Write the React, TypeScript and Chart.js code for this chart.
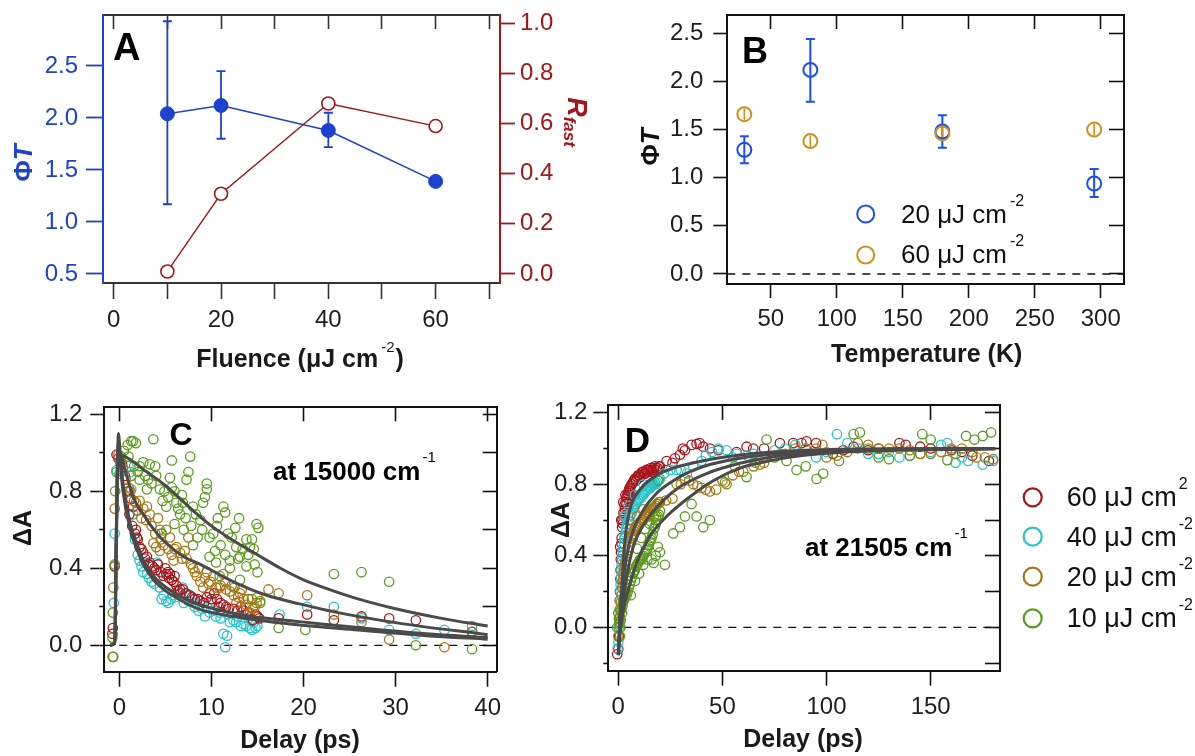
import React, { useEffect, useRef } from 'react';
import { Chart, registerables } from 'chart.js';

Chart.register(...registerables);

const FONT = "'Liberation Sans', Arial, Helvetica, sans-serif";

// ---------------- Panel A data ----------------
const fluenceA = [10, 20, 40, 60];
const phiTA = [2.04, 2.12, 1.88, 1.39];
const phiTALow = [1.17, 1.8, 1.72, 1.36];
const phiTAHigh = [2.93, 2.45, 2.05, 1.42];
const rFastA = [0.01, 0.32, 0.68, 0.59];
const ticksAx = [0, 10, 20, 30, 40, 50, 60, 70];
const labelsAx = ['0', '', '20', '', '40', '', '60', ''];
const ticksAy = [0.5, 1.0, 1.5, 2.0, 2.5];
const ticksAr = [0, 0.2, 0.4, 0.6, 0.8, 1.0];

// ---------------- Panel B data ----------------
const tempsB = [30, 80, 180, 295];
const phiT20 = [1.29, 2.12, 1.48, 0.94];
const phiT20Low = [1.15, 1.79, 1.31, 0.8];
const phiT20High = [1.43, 2.44, 1.65, 1.09];
const phiT60 = [1.66, 1.38, 1.46, 1.5];
const phiT60Low = [1.6, 1.32, 1.4, 1.44];
const phiT60High = [1.72, 1.44, 1.52, 1.56];
const ticksBx = [50, 100, 150, 200, 250, 300];
const ticksBy = [0, 0.5, 1.0, 1.5, 2.0, 2.5];

// ---------------- Panel C data (delay ps, ΔA) ----------------
const c60 = [[-0.75,0.06],[-0.7,0.09],[-0.5,0.41],[-0.3,0.99],[-0.1,0.97],[0.3,0.94],[0.6,0.88],[1.0,0.8],[1.3,0.76],[1.5,0.72],[1.7,0.58],[1.9,0.56],[2.2,0.51],[2.6,0.48],[3.0,0.46],[3.3,0.43],[3.8,0.4],[4.5,0.38],[5.1,0.37],[5.5,0.37],[5.7,0.34],[6.0,0.36],[6.4,0.28],[6.9,0.29],[7.9,0.25],[8.5,0.24],[9.8,0.27],[10.3,0.27],[10.6,0.24],[11.0,0.22],[11.6,0.2],[12.4,0.19],[13.5,0.18],[13.8,0.16],[14.5,0.13],[15.0,0.15],[17.3,0.14],[20.4,0.16],[23.3,0.13],[26.3,0.15],[29.3,0.14],[32.2,0.13],[38.3,0.07],
  [1.1,0.68],[1.4,0.62],[1.8,0.6],[2.0,0.55],[2.4,0.5],[2.8,0.45],[3.2,0.42],[3.6,0.41],[4.0,0.39],[4.8,0.36],[5.3,0.38],[5.9,0.33],[6.2,0.31],[6.6,0.29],[7.2,0.27],[7.6,0.26],[8.2,0.24],[8.8,0.23],[9.2,0.22],[9.5,0.25],[10.0,0.24],[10.8,0.2],[11.3,0.21],[11.9,0.19],[12.8,0.18],[13.2,0.2],[14.0,0.17],[14.8,0.16],[15.2,0.14],[4.2,0.42],[5.0,0.4],[5.4,0.35]];
const c40 = [[-0.6,0.22],[-0.5,0.58],[-0.3,0.91],[0.0,0.89],[1.0,0.93],[1.2,0.9],[1.3,0.81],[1.9,0.7],[2.2,0.44],[2.4,0.41],[2.7,0.43],[3.0,0.37],[3.5,0.33],[4.1,0.43],[4.4,0.3],[4.6,0.24],[5.1,0.23],[5.6,0.24],[6.3,0.28],[6.9,0.3],[7.3,0.27],[7.7,0.26],[8.0,0.24],[8.4,0.22],[8.8,0.21],[9.3,0.15],[9.5,0.2],[10.2,0.18],[10.9,0.17],[11.3,0.06],[11.5,-0.01],[11.7,0.05],[12.4,0.13],[12.7,0.12],[13.2,0.1],[13.8,0.1],[14.4,0.08],[14.8,0.09],[14.0,0.14],[17.4,0.16],[20.4,0.2],[23.3,0.2],[26.3,0.14],[29.3,0.08],[32.2,0.06],[35.3,0.08],[38.3,0.1],
  [1.5,0.68],[1.7,0.55],[2.0,0.47],[2.6,0.38],[3.2,0.35],[3.8,0.32],[4.2,0.36],[4.8,0.26],[5.3,0.22],[5.8,0.26],[6.1,0.25],[6.6,0.27],[7.0,0.22],[7.5,0.23],[8.2,0.2],[8.6,0.18],[9.0,0.19],[9.8,0.17],[10.5,0.15],[11.0,0.14],[12.0,0.12],[12.9,0.15],[13.5,0.11],[14.2,0.09],[14.6,0.12],[15.0,0.1],[10.0,0.22],[11.8,0.16]];
const c20 = [[-0.72,-0.06],[-0.65,0.3],[-0.5,0.71],[-0.1,0.99],[0.1,0.95],[0.4,0.92],[1.0,0.82],[1.3,0.88],[1.6,0.75],[2.2,0.75],[2.6,0.71],[3.0,0.72],[3.3,0.68],[4.2,0.66],[3.9,0.58],[4.6,0.58],[5.1,0.6],[3.7,0.53],[4.0,0.51],[4.4,0.49],[5.5,0.56],[6.2,0.51],[6.6,0.48],[7.1,0.49],[7.5,0.56],[7.3,0.45],[5.9,0.44],[8.0,0.4],[8.4,0.36],[8.8,0.33],[9.1,0.3],[9.7,0.32],[10.2,0.36],[11.3,0.37],[11.0,0.31],[10.9,0.3],[12.0,0.28],[12.4,0.26],[13.1,0.27],[13.5,0.24],[12.7,0.22],[13.8,0.21],[14.5,0.19],[14.9,0.22],[15.3,0.23],[14.2,0.17],[16.2,0.29],[17.3,0.27],[20.4,0.26],[23.3,0.16],[26.3,0.12],[29.3,0.03],[35.3,-0.01],[38.3,0.07],
  [0.7,0.86],[1.2,0.8],[1.8,0.74],[2.0,0.7],[2.4,0.66],[2.9,0.65],[3.5,0.62],[4.5,0.55],[4.8,0.52],[5.3,0.5],[5.7,0.47],[6.0,0.5],[6.8,0.45],[7.8,0.42],[8.2,0.38],[8.6,0.4],[9.3,0.35],[9.9,0.33],[10.5,0.3],[11.6,0.29],[12.2,0.31],[12.9,0.25],[13.3,0.29],[14.0,0.24],[14.7,0.2],[15.0,0.25],[9.5,0.38],[11.5,0.33]];
const c10 = [[-0.65,-0.06],[-0.75,0.04],[-0.7,0.17],[-0.5,0.42],[-0.45,0.8],[-0.3,0.9],[0.2,0.98],[0.5,1.01],[0.9,1.04],[1.3,1.06],[1.5,1.06],[1.8,1.05],[3.7,1.07],[2.2,0.93],[2.6,0.95],[3.3,0.94],[3.9,0.93],[5.7,0.96],[7.7,0.98],[7.5,0.9],[7.3,0.86],[6.8,0.78],[5.5,0.87],[5.7,0.82],[2.2,0.86],[3.0,0.81],[3.1,0.86],[4.4,0.81],[6.2,0.74],[6.4,0.71],[5.1,0.72],[4.7,0.75],[4.4,0.6],[4.6,0.58],[6.9,0.74],[8.0,0.72],[8.8,0.65],[9.1,0.74],[9.5,0.84],[9.5,0.81],[9.3,0.77],[10.6,0.62],[10.7,0.66],[11.3,0.72],[11.5,0.69],[11.8,0.58],[12.2,0.56],[12.7,0.51],[10.4,0.49],[9.8,0.46],[13.1,0.46],[13.8,0.55],[14.2,0.51],[14.4,0.55],[13.8,0.41],[13.1,0.34],[14.9,0.63],[15.1,0.61],[10.9,0.36],[14.4,0.24],[8.5,0.56],[7.0,0.6],[12.0,0.4],[12.5,0.3],[15.3,0.22],[17.3,0.09],[20.2,0.08],[23.3,0.37],[26.3,0.38],[29.3,0.33],[32.2,0.0],[38.3,-0.02],
  [1.0,0.98],[1.6,0.93],[2.0,0.9],[2.8,0.88],[3.5,0.84],[4.0,0.88],[4.9,0.8],[5.3,0.77],[6.0,0.8],[6.6,0.68],[7.2,0.66],[7.8,0.62],[8.3,0.68],[9.0,0.6],[9.8,0.56],[10.2,0.58],[11.0,0.52],[11.5,0.47],[12.0,0.44],[12.9,0.45],[13.4,0.5],[14.0,0.47],[14.7,0.42],[15.0,0.38],[10.5,0.43],[8.0,0.52],[6.0,0.63],[12.6,0.61],[13.0,0.66],[14.6,0.5]];
const fitC10 = [[-1.0,0],[-0.5,0.01],[-0.35,0.5],[-0.15,1.0],[0.2,0.99],[1.0,0.97],[3.0,0.9],[5.0,0.83],[8.0,0.7],[10.0,0.62],[12.5,0.54],[15.0,0.47],[17.5,0.4],[20.0,0.34],[23.0,0.287],[26.0,0.24],[30.0,0.19],[35.0,0.14],[40.0,0.1]];
const fitC20 = [[-1.0,0],[-0.5,0.01],[-0.35,0.5],[-0.15,1.0],[0.0,1.0],[0.8,0.88],[1.5,0.77],[2.6,0.68],[4.1,0.58],[5.1,0.53],[7.0,0.46],[8.8,0.42],[12.4,0.33],[16.0,0.26],[19.6,0.215],[23.2,0.175],[30.5,0.114],[40.0,0.055]];
const fitC60 = [[-1.0,0],[-0.5,0.01],[-0.3,0.6],[-0.1,1.1],[0.1,1.0],[0.4,0.84],[1.2,0.63],[1.9,0.53],[2.6,0.44],[3.7,0.36],[5.1,0.3],[7.0,0.244],[8.8,0.21],[12.4,0.166],[16.0,0.14],[19.6,0.123],[25.9,0.092],[33.3,0.06],[40.0,0.04]];
const fitC40 = [[-1.0,0],[-0.5,0.01],[-0.3,0.6],[-0.1,1.05],[0.1,0.95],[0.4,0.8],[1.2,0.6],[1.9,0.5],[2.6,0.42],[3.7,0.34],[5.1,0.28],[7.0,0.225],[8.8,0.185],[12.4,0.15],[16.0,0.125],[19.6,0.106],[25.9,0.08],[33.3,0.05],[40.0,0.032]];
const ticksCx = [0, 10, 20, 30, 40];
const ticksCyMinor = [0, 0.2, 0.4, 0.6, 0.8, 1.0, 1.2];
const ticksCyMajor = [0, 0.4, 0.8, 1.2];

// ---------------- Panel D data (delay ps, ΔA) ----------------
const d60 = [[-0.5,-0.15],[0,-0.12],[0.3,-0.05],[0.5,0.05],[0.7,0.15],[1.0,0.27],[1.2,0.38],[1.5,0.47],[1.8,0.56],[2.0,0.6],[2.5,0.64],[3.0,0.68],[3.5,0.7],[4.0,0.73],[4.5,0.75],[5.0,0.76],[5.5,0.78],[6.0,0.79],[7.0,0.81],[8.0,0.83],[9.0,0.84],[10.0,0.85],[11.0,0.86],[12.0,0.87],[13.0,0.86],[14.0,0.88],[15.0,0.88],[16.0,0.87],[17.0,0.89],[18.0,0.88],[19.0,0.89],[20.0,0.9],[23.2,0.93],[27.2,0.945],[29.6,0.965],[32.0,0.99],[35.2,1.02],[37.6,1.025],[40.8,1.01],[44,1.0],[56.8,0.98],[61.6,1.01],[64.8,1.0],[77.6,1.03],[84,1.03],[90.4,1.04],[95,1.03],[103,0.97],[113,1.01],[120,0.99],[135,1.03],[138,1.02],[150,1.0],[160,0.99],[170,0.96],[178,0.93],
  [0.8,0.2],[1.1,0.32],[1.3,0.42],[1.6,0.5],[2.2,0.58],[2.8,0.62],[3.2,0.66],[3.8,0.69],[4.2,0.72],[4.8,0.74],[5.2,0.77],[5.8,0.76],[6.5,0.8],[7.5,0.82],[8.5,0.82],[9.5,0.85],[10.5,0.84],[11.5,0.87],[12.5,0.86],[13.5,0.88],[14.5,0.87],[15.5,0.89],[16.5,0.88],[17.5,0.9],[18.5,0.89],[19.5,0.9],[1.4,0.6],[2.4,0.7],[3.4,0.74],[0.9,0.45],[26,0.92],[31,1.0],[39,1.03],[48,0.99],[70,1.0],[88,1.03],[108,0.99],[125,1.0],[145,1.01],[165,0.98]];
const d40 = [[-0.3,-0.12],[0,-0.08],[0.3,0.0],[0.6,0.1],[1.0,0.2],[1.3,0.28],[1.6,0.35],[2.0,0.4],[2.5,0.45],[3.0,0.5],[3.5,0.53],[4.0,0.56],[5.0,0.6],[6.0,0.63],[7.0,0.66],[8.0,0.68],[9.0,0.7],[10.0,0.72],[11.0,0.73],[12.0,0.74],[13.0,0.76],[14.0,0.77],[15.0,0.78],[16.0,0.79],[17.0,0.8],[18.0,0.8],[19.0,0.82],[20.0,0.83],[25,0.88],[28,0.88],[33,0.86],[40,0.93],[45,0.98],[48,1.0],[52,0.99],[57,0.97],[62,0.96],[75,0.99],[85,1.02],[95,0.95],[105,1.08],[110,1.03],[115,1.0],[125,0.97],[130,0.98],[140,0.96],[150,0.98],[158,1.03],[162,0.92],[168,0.93],[175,0.91],[180,0.93],
  [0.8,0.15],[1.1,0.24],[1.5,0.32],[1.8,0.38],[2.2,0.42],[2.8,0.47],[3.2,0.51],[3.8,0.55],[4.5,0.58],[5.5,0.62],[6.5,0.64],[7.5,0.67],[8.5,0.69],[9.5,0.71],[10.5,0.72],[11.5,0.74],[12.5,0.75],[13.5,0.77],[14.5,0.78],[15.5,0.78],[16.5,0.8],[17.5,0.81],[18.5,0.81],[19.5,0.83],[3.0,0.62],[5.0,0.68],[8,0.74],[12,0.8],[2,0.3],[22,0.86],[30,0.88],[36,0.9],[42,0.96],[55,0.95],[65,0.97],[80,1.0],[90,1.0],[100,0.98],[120,0.97],[135,0.95],[145,0.97],[155,1.02],[165,0.95]];
const d20 = [[0,-0.05],[0.5,0.02],[1.0,0.1],[1.5,0.18],[2.0,0.25],[2.5,0.3],[3.0,0.33],[3.5,0.37],[4.0,0.4],[5.0,0.45],[6.0,0.5],[7.0,0.52],[8.0,0.55],[9.0,0.57],[10.0,0.58],[11.0,0.59],[12.0,0.6],[13.0,0.62],[14.0,0.63],[15.0,0.64],[16.0,0.66],[17.0,0.67],[18.0,0.68],[19.0,0.69],[20.0,0.7],[23,0.71],[26,0.72],[28,0.8],[32,0.83],[36,0.8],[40,0.78],[44,0.76],[47,0.77],[52,0.8],[55,0.85],[60,0.87],[65,0.9],[70,0.92],[75,0.96],[80,0.97],[85,1.0],[95,1.0],[100,0.95],[105,0.96],[115,1.03],[125,1.0],[135,1.0],[145,0.97],[155,0.98],[165,1.0],[172,0.95],[180,0.94],
  [0.8,0.06],[1.2,0.14],[1.8,0.22],[2.2,0.27],[2.8,0.32],[3.2,0.35],[4.5,0.43],[5.5,0.48],[6.5,0.51],[7.5,0.54],[8.5,0.56],[9.5,0.57],[10.5,0.59],[11.5,0.6],[12.5,0.61],[13.5,0.62],[14.5,0.64],[15.5,0.65],[16.5,0.66],[17.5,0.67],[18.5,0.69],[19.5,0.7],[6,0.55],[9,0.62],[12,0.66],[15,0.62],[18,0.62],[30,0.8],[34,0.82],[38,0.79],[42,0.77],[50,0.82],[58,0.87],[68,0.91],[78,0.97],[90,1.0],[98,1.02],[110,0.98],[120,1.02],[130,1.0],[140,0.99],[150,0.97],[160,1.0],[170,0.98],[176,0.95]];
const d10 = [[-0.5,0.0],[0,0.08],[0.5,0.03],[1.0,0.0],[1.5,0.1],[2.0,0.12],[2.5,0.15],[3.0,0.16],[3.5,0.2],[4.0,0.18],[5.0,0.22],[6.0,0.26],[7.0,0.3],[8.0,0.32],[9.0,0.35],[10.0,0.37],[11.0,0.38],[12.0,0.4],[13.0,0.42],[14.0,0.44],[15.0,0.48],[16.0,0.5],[17.0,0.55],[18.0,0.58],[19.0,0.62],[20.0,0.65],[16,0.38],[18,0.4],[19.2,0.82],[22.4,0.35],[26.4,0.525],[29.6,0.56],[32,0.62],[35.2,0.69],[37.6,0.62],[40.8,0.56],[44,0.6],[51.2,0.81],[56,0.9],[61.6,0.84],[66,0.92],[71.2,1.05],[75,0.95],[80.8,0.93],[85.6,0.88],[90,0.9],[95.2,0.83],[98.4,0.86],[106,0.93],[113,1.08],[116,1.09],[120,1.0],[125,0.95],[130,0.94],[140,0.96],[146,1.08],[150,1.05],[158,0.935],[162,0.97],[167,1.07],[171,1.05],[175,1.07],[179,1.09],
  [0.3,0.05],[0.8,-0.05],[1.2,0.04],[1.8,0.08],[2.2,0.14],[2.8,0.16],[3.2,0.18],[4.5,0.2],[5.5,0.24],[6.5,0.28],[7.5,0.31],[8.5,0.34],[9.5,0.36],[10.5,0.38],[11.5,0.39],[12.5,0.41],[13.5,0.43],[14.5,0.46],[15.5,0.49],[16.5,0.52],[17.5,0.56],[18.5,0.6],[19.5,0.63],[6,0.18],[8,0.26],[10,0.3],[12,0.35],[14,0.38],[17,0.36],[19,0.45],[20,0.42],[9,0.44],[11,0.5],[13,0.55],[15,0.58],[17,0.62],[18,0.68]];
const fitD60 = [[0,-0.155],[0.5,0.0],[1.0,0.12],[1.6,0.21],[2.4,0.36],[3.2,0.49],[5.6,0.66],[10.4,0.77],[18.4,0.85],[26.4,0.89],[42.4,0.935],[58.4,0.963],[74.4,0.98],[106,0.995],[181,1.0]];
const fitD40 = [[0,-0.155],[0.8,0.05],[1.6,0.17],[4,0.395],[7.2,0.544],[12,0.656],[18.4,0.75],[26.4,0.82],[34.4,0.87],[42.4,0.905],[58.4,0.945],[74.4,0.969],[90.4,0.98],[122,0.995],[181,1.0]];
const fitD20 = [[0,-0.155],[1,0.02],[2,0.12],[4,0.28],[7.2,0.45],[13.6,0.6],[21.6,0.71],[29.6,0.786],[42.4,0.86],[58.4,0.917],[74.4,0.954],[90.4,0.973],[122,0.99],[181,1.0]];
const fitD10 = [[0,-0.155],[1.2,0.0],[2.5,0.1],[4.8,0.21],[8.8,0.36],[15.2,0.51],[23.2,0.62],[34.4,0.73],[45.6,0.82],[58.4,0.89],[74.4,0.935],[90.4,0.963],[122,0.987],[181,0.997]];
const ticksDx = [0, 50, 100, 150];
const ticksDyMinor = [-0.2, 0, 0.2, 0.4, 0.6, 0.8, 1.0, 1.2];
const ticksDyMajor = [0, 0.4, 0.8, 1.2];

const legendLabelsD = ['60 μJ cm', '40 μJ cm', '20 μJ cm', '10 μJ cm'];
const legendSupD = ['2', '-2', '-2', '-2'];
const legendLabelsB = ['20 μJ cm', '60 μJ cm'];

// ---------------- colours ----------------
const C_RED = '#a8151b';
const C_CYAN = '#25c4ca';
const C_BROWN = '#ad7412';
const C_GREEN = '#5a9c1c';
const C_FIT = '#4a4a4a';

// ---------------- helpers ----------------
type Seg = { t: string; size: number; bold?: boolean; italic?: boolean; dy?: number; dx?: number };
type TextItem = { x: number; y: number; segs: Seg[]; color: string; align?: 'left' | 'center'; rot?: number; baseline?: CanvasTextBaseline };
type ErrBar = { xAxis: string; yAxis: string; xs: number[]; lo: number[]; hi: number[]; color: string; width: number; cap: number };
type Mark = { x: number; y: number; r: number; color: string; lw: number };

const fnt = (s: Seg) => `${s.italic ? 'italic ' : ''}${s.bold ? 'bold ' : ''}${s.size}px ${FONT}`;

function drawRich(ctx: CanvasRenderingContext2D, it: TextItem) {
  ctx.save();
  ctx.translate(it.x, it.y);
  if (it.rot) ctx.rotate(it.rot);
  ctx.textBaseline = it.baseline || 'alphabetic';
  ctx.textAlign = 'left';
  ctx.fillStyle = it.color;
  const ws = it.segs.map((s) => {
    ctx.font = fnt(s);
    return ctx.measureText(s.t).width + (s.dx || 0);
  });
  const total = ws.reduce((a, b) => a + b, 0);
  let x = it.align === 'center' ? -total / 2 : 0;
  it.segs.forEach((s, i) => {
    ctx.font = fnt(s);
    ctx.fillText(s.t, x + (s.dx || 0), s.dy || 0);
    x += ws[i];
  });
  ctx.restore();
}

function decor(texts: TextItem[], errs: ErrBar[], marks: Mark[]) {
  return {
    id: 'decor',
    beforeDatasetsDraw(chart: any) {
      const ctx = chart.ctx as CanvasRenderingContext2D;
      errs.forEach((e) => {
        const xs = chart.scales[e.xAxis];
        const ys = chart.scales[e.yAxis];
        ctx.save();
        ctx.strokeStyle = e.color;
        ctx.lineWidth = e.width;
        e.xs.forEach((xv, i) => {
          const px = xs.getPixelForValue(xv);
          const p1 = ys.getPixelForValue(e.lo[i]);
          const p2 = ys.getPixelForValue(e.hi[i]);
          ctx.beginPath();
          ctx.moveTo(px, p1);
          ctx.lineTo(px, p2);
          if (e.cap > 0) {
            ctx.moveTo(px - e.cap, p1);
            ctx.lineTo(px + e.cap, p1);
            ctx.moveTo(px - e.cap, p2);
            ctx.lineTo(px + e.cap, p2);
          }
          ctx.stroke();
        });
        ctx.restore();
      });
    },
    afterDraw(chart: any) {
      const ctx = chart.ctx as CanvasRenderingContext2D;
      marks.forEach((m) => {
        ctx.save();
        ctx.strokeStyle = m.color;
        ctx.lineWidth = m.lw;
        ctx.beginPath();
        ctx.arc(m.x, m.y, m.r, 0, Math.PI * 2);
        ctx.stroke();
        ctx.restore();
      });
      texts.forEach((t) => drawRich(ctx, t));
    },
  };
}

type AxisOpt = {
  pos: 'left' | 'right' | 'top' | 'bottom';
  min: number; max: number; ticks: number[]; size: number; tick: number; color: string;
  label?: (v: number, i: number) => string; labelColor?: string; pad?: number; tickWidth?: number;
  border?: boolean; weight?: number; fontSize?: number;
};

function axis(o: AxisOpt) {
  const horizontal = o.pos === 'top' || o.pos === 'bottom';
  return {
    type: 'linear',
    position: o.pos,
    min: o.min,
    max: o.max,
    weight: o.weight ?? 0,
    afterBuildTicks: (s: any) => {
      s.ticks = o.ticks.map((v) => ({ value: v }));
    },
    afterFit: (s: any) => {
      if (horizontal) s.height = o.size; else s.width = o.size;
      s.paddingLeft = 0; s.paddingRight = 0; s.paddingTop = 0; s.paddingBottom = 0;
    },
    border: { display: o.border !== false, color: o.color, width: 2 },
    grid: { display: true, drawOnChartArea: false, drawTicks: true, tickLength: o.tick, tickColor: o.color, tickWidth: o.tickWidth ?? 1.6, color: o.color },
    ticks: {
      display: !!o.label,
      autoSkip: false,
      maxRotation: 0,
      minRotation: 0,
      padding: o.pad ?? 8,
      color: o.labelColor ?? '#1e1e1e',
      font: { family: FONT, size: o.fontSize ?? 24 },
      callback: (v: any, i: number) => (o.label ? o.label(Number(v), i) : ''),
    },
  };
}

const pairs = (xs: number[], ys: number[]) => xs.map((x, i) => ({ x, y: ys[i] }));
const pts = (arr: number[][]) => arr.map((p) => ({ x: p[0], y: p[1] }));

const base = {
  responsive: false,
  animation: false,
  devicePixelRatio: 1,
  events: [],
  layout: { padding: 0 },
  plugins: { legend: { display: false }, tooltip: { enabled: false } },
};

const scatterSet = (data: number[][], color: string, r = 4.7) => ({
  type: 'scatter',
  data: pts(data),
  showLine: false,
  pointStyle: 'circle',
  pointRadius: r,
  pointBorderWidth: 1.3,
  pointBorderColor: color,
  pointBackgroundColor: 'rgba(0,0,0,0)',
  borderColor: color,
  backgroundColor: 'rgba(0,0,0,0)',
  order: 2,
});

const fitSet = (data: number[][]) => ({
  type: 'line',
  data: pts(data),
  showLine: true,
  borderColor: C_FIT,
  borderWidth: 3,
  pointRadius: 0,
  cubicInterpolationMode: 'monotone',
  fill: false,
  order: 0,
});

const zeroSet = (x0: number, x1: number) => ({
  type: 'line',
  data: [{ x: x0, y: 0 }, { x: x1, y: 0 }],
  showLine: true,
  borderColor: '#111',
  borderWidth: 1.3,
  borderDash: [8, 7],
  pointRadius: 0,
  fill: false,
  order: 3,
});

const fix1 = (v: number) => v.toFixed(1);
const int = (v: number) => String(Math.round(v));

// ---------------- Panel A ----------------
function buildA() {
  const blue = '#1d42d0';
  const red = '#a3161a';
  const dark = '#333';
  const xr = { min: -2, max: 72 };
  const texts: TextItem[] = [
    { x: 113, y: 60, color: '#000', segs: [{ t: 'A', size: 38, bold: true }] },
    { x: 25, y: 163, rot: -Math.PI / 2, baseline: 'middle', align: 'center', color: blue, segs: [{ t: 'Φ', size: 26, bold: true }, { t: 'T', size: 26, bold: true, italic: true }] },
    { x: 575, y: 122, rot: Math.PI / 2, baseline: 'middle', align: 'center', color: red, segs: [{ t: 'R', size: 27, bold: true, italic: true }, { t: 'fast', size: 17, bold: true, italic: true, dy: 6 }] },
    { x: 300, y: 367, align: 'center', color: '#1a1a1a', segs: [{ t: 'Fluence (μJ cm', size: 25, bold: true }, { t: '-2', size: 15, dy: -15, dx: 3 }, { t: ')', size: 25, bold: true, dx: 1 }] },
  ];
  const errs: ErrBar[] = [{ xAxis: 'x', yAxis: 'y', xs: fluenceA, lo: phiTALow, hi: phiTAHigh, color: blue, width: 1.8, cap: 4.5 }];
  return {
    type: 'scatter',
    data: {
      datasets: [
        { type: 'line', data: pairs(fluenceA, rFastA), xAxisID: 'x', yAxisID: 'yR', showLine: true, borderColor: red, borderWidth: 1.4, pointRadius: 6.5, pointBorderWidth: 1.6, pointBorderColor: red, pointBackgroundColor: '#fff', backgroundColor: '#fff', tension: 0, fill: false, order: 0 },
        { type: 'line', data: pairs(fluenceA, phiTA), xAxisID: 'x', yAxisID: 'y', showLine: true, borderColor: blue, borderWidth: 1.6, pointRadius: 7, pointBorderWidth: 1, pointBorderColor: blue, pointBackgroundColor: blue, backgroundColor: blue, tension: 0, fill: false, order: 1 },
      ],
    },
    options: {
      ...base,
      scales: {
        x: axis({ pos: 'bottom', ...xr, ticks: ticksAx, size: 102, tick: 16, color: dark, label: (v, i) => labelsAx[i] ?? '', pad: 7 }),
        xT: axis({ pos: 'top', ...xr, ticks: ticksAx, size: 15, tick: -14, color: dark }),
        y: axis({ pos: 'left', min: 0.413, max: 2.99, ticks: ticksAy, size: 103, tick: 17, color: blue, label: fix1, labelColor: blue, pad: 8, tickWidth: 1.8 }),
        yR: axis({ pos: 'right', min: -0.036, max: 1.033, ticks: ticksAr, size: 100, tick: 15, color: red, label: fix1, labelColor: red, pad: 5, tickWidth: 1.8 }),
      },
    },
    plugins: [decor(texts, errs, [])],
  };
}

// ---------------- Panel B ----------------
function buildB() {
  const blue = '#1b4ff2';
  const orange = '#d28f1a';
  const dark = '#111';
  const xr = { min: 17.1, max: 317.6 };
  const yr = { min: -0.104, max: 2.69 };
  const texts: TextItem[] = [
    { x: 155, y: 63, align: 'center', color: '#000', segs: [{ t: 'B', size: 36, bold: true }] },
    { x: 52, y: 147, rot: -Math.PI / 2, baseline: 'middle', align: 'center', color: '#111', segs: [{ t: 'Φ', size: 26, bold: true }, { t: 'T', size: 26, bold: true, italic: true }] },
    { x: 326.7, y: 362, align: 'center', color: '#1a1a1a', segs: [{ t: 'Temperature (K)', size: 25, bold: true }] },
    { x: 301, y: 223, color: '#111', segs: [{ t: legendLabelsB[0], size: 26 }, { t: '-2', size: 16, dy: -17, dx: 3 }] },
    { x: 301, y: 263, color: '#111', segs: [{ t: legendLabelsB[1], size: 26 }, { t: '-2', size: 16, dy: -17, dx: 3 }] },
  ];
  const marks: Mark[] = [
    { x: 265.7, y: 214, r: 8.5, color: blue, lw: 2 },
    { x: 265.7, y: 255, r: 8.5, color: orange, lw: 2 },
  ];
  const errs: ErrBar[] = [
    { xAxis: 'x', yAxis: 'y', xs: tempsB, lo: phiT20Low, hi: phiT20High, color: blue, width: 2, cap: 4.5 },
    { xAxis: 'x', yAxis: 'y', xs: tempsB, lo: phiT60Low, hi: phiT60High, color: orange, width: 1.6, cap: 0 },
  ];
  return {
    type: 'scatter',
    data: {
      datasets: [
        { type: 'scatter', data: pairs(tempsB, phiT20), xAxisID: 'x', yAxisID: 'y', showLine: false, pointRadius: 7, pointBorderWidth: 2, pointBorderColor: blue, pointBackgroundColor: 'rgba(0,0,0,0)', borderColor: blue, order: 1 },
        { type: 'scatter', data: pairs(tempsB, phiT60), xAxisID: 'x', yAxisID: 'y', showLine: false, pointRadius: 7, pointBorderWidth: 2, pointBorderColor: orange, pointBackgroundColor: 'rgba(0,0,0,0)', borderColor: orange, order: 0 },
        zeroSet(xr.min, xr.max),
      ],
    },
    options: {
      ...base,
      scales: {
        x: axis({ pos: 'bottom', ...xr, ticks: ticksBx, size: 101, tick: 14, color: dark, label: int, pad: 7 }),
        xT: axis({ pos: 'top', ...xr, ticks: ticksBx, size: 15, tick: -14, color: dark }),
        y: axis({ pos: 'left', ...yr, ticks: ticksBy, size: 127.3, tick: 14, color: dark, label: fix1, pad: 10 }),
        yR: axis({ pos: 'right', ...yr, ticks: ticksBy, size: 71, tick: -15, color: dark }),
      },
    },
    plugins: [decor(texts, errs, marks)],
  };
}

// ---------------- Panel C ----------------
function buildC() {
  const dark = '#111';
  const xr = { min: -1.63, max: 40.98 };
  const yr = { min: -0.137, max: 1.236 };
  const texts: TextItem[] = [
    { x: 181, y: 60, align: 'center', color: '#000', segs: [{ t: 'C', size: 32, bold: true }] },
    { x: 273, y: 95, color: '#000', segs: [{ t: 'at 15000 cm', size: 26, bold: true }, { t: '-1', size: 15, dy: -18, dx: 2 }] },
    { x: 24, y: 143, rot: -Math.PI / 2, baseline: 'middle', align: 'center', color: '#1a1a1a', segs: [{ t: 'ΔA', size: 25, bold: true }] },
    { x: 300, y: 363, align: 'center', color: '#1a1a1a', segs: [{ t: 'Delay (ps)', size: 25, bold: true }] },
  ];
  return {
    type: 'scatter',
    data: {
      datasets: [
        fitSet(fitC10), fitSet(fitC20), fitSet(fitC60), fitSet(fitC40),
        scatterSet(c10, C_GREEN), scatterSet(c20, C_BROWN), scatterSet(c60, C_RED), scatterSet(c40, C_CYAN),
        zeroSet(xr.min, xr.max),
      ],
    },
    options: {
      ...base,
      scales: {
        x: axis({ pos: 'bottom', ...xr, ticks: ticksCx, size: 84.3, tick: 15, color: dark, label: int, pad: 7 }),
        xT: axis({ pos: 'top', ...xr, ticks: ticksCx, size: 22.3, tick: -14, color: dark }),
        y: axis({ pos: 'left', ...yr, ticks: ticksCyMinor, size: 5, tick: 5, color: dark, weight: 0 }),
        yL: axis({ pos: 'left', ...yr, ticks: ticksCyMajor, size: 99.3, tick: 9, color: dark, label: fix1, pad: 8, border: false, weight: 1 }),
        yR: axis({ pos: 'right', ...yr, ticks: ticksCyMinor, size: 43.3, tick: -14, color: dark }),
      },
    },
    plugins: [decor(texts, [], [])],
  };
}

// ---------------- Panel D ----------------
function buildD() {
  const dark = '#111';
  const xr = { min: -4.8, max: 183.3 };
  const yr = { min: -0.242, max: 1.243 };
  const colors = [C_RED, C_CYAN, C_BROWN, C_GREEN];
  const rowsY = [112.3, 151.7, 191.7, 233.3];
  const texts: TextItem[] = [
    { x: 97.5, y: 67, align: 'center', color: '#000', segs: [{ t: 'D', size: 35, bold: true }] },
    { x: 265, y: 171, color: '#000', segs: [{ t: 'at 21505 cm', size: 26, bold: true }, { t: '-1', size: 15, dy: -18, dx: 2 }] },
    { x: 22, y: 135, rot: -Math.PI / 2, baseline: 'middle', align: 'center', color: '#1a1a1a', segs: [{ t: 'ΔA', size: 25, bold: true }] },
    { x: 263, y: 362, align: 'center', color: '#1a1a1a', segs: [{ t: 'Delay (ps)', size: 25, bold: true }] },
    ...legendLabelsD.map((lab, i) => ({ x: 526.7, y: rowsY[i] + 9, color: '#111', segs: [{ t: lab, size: 27 }, { t: legendSupD[i], size: 16, dy: -17, dx: 2 }] } as TextItem)),
  ];
  const marks: Mark[] = colors.map((c, i) => ({ x: 492.7, y: rowsY[i], r: 9, color: c, lw: 2.2 }));
  return {
    type: 'scatter',
    data: {
      datasets: [
        fitSet(fitD60), fitSet(fitD40), fitSet(fitD20), fitSet(fitD10),
        scatterSet(d10, C_GREEN), scatterSet(d20, C_BROWN), scatterSet(d40, C_CYAN), scatterSet(d60, C_RED),
        zeroSet(xr.min, xr.max),
      ],
    },
    options: {
      ...base,
      scales: {
        x: axis({ pos: 'bottom', ...xr, ticks: ticksDx, size: 85.3, tick: 15, color: dark, label: int, pad: 7 }),
        xT: axis({ pos: 'top', ...xr, ticks: ticksDx, size: 20, tick: -15, color: dark }),
        y: axis({ pos: 'left', ...yr, ticks: ticksDyMinor, size: 5, tick: 5, color: dark, weight: 0 }),
        yL: axis({ pos: 'left', ...yr, ticks: ticksDyMajor, size: 63.3, tick: 10, color: dark, label: fix1, pad: 6, border: false, weight: 1 }),
        yR: axis({ pos: 'right', ...yr, ticks: ticksDyMinor, size: 195, tick: -15, color: dark }),
      },
    },
    plugins: [decor(texts, [], marks)],
  };
}

const ChartBox: React.FC<{ left: number; top: number; width: number; height: number; build: () => any }> = ({ left, top, width, height, build }) => {
  const ref = useRef<HTMLCanvasElement>(null);
  useEffect(() => {
    const chart = new Chart(ref.current as HTMLCanvasElement, build());
    return () => chart.destroy();
  }, []);
  return <canvas ref={ref} width={width} height={height} style={{ position: 'absolute', left, top, width, height, display: 'block' }} />;
};

export default function App() {
  return (
    <div style={{ position: 'absolute', left: 0, top: 0, width: 1195, height: 756, background: '#fff', overflow: 'hidden' }}>
      <ChartBox left={0} top={0} width={600} height={385} build={buildA} />
      <ChartBox left={600} top={0} width={595} height={385} build={buildB} />
      <ChartBox left={0} top={385} width={540} height={371} build={buildC} />
      <ChartBox left={540} top={385} width={655} height={371} build={buildD} />
    </div>
  );
}
